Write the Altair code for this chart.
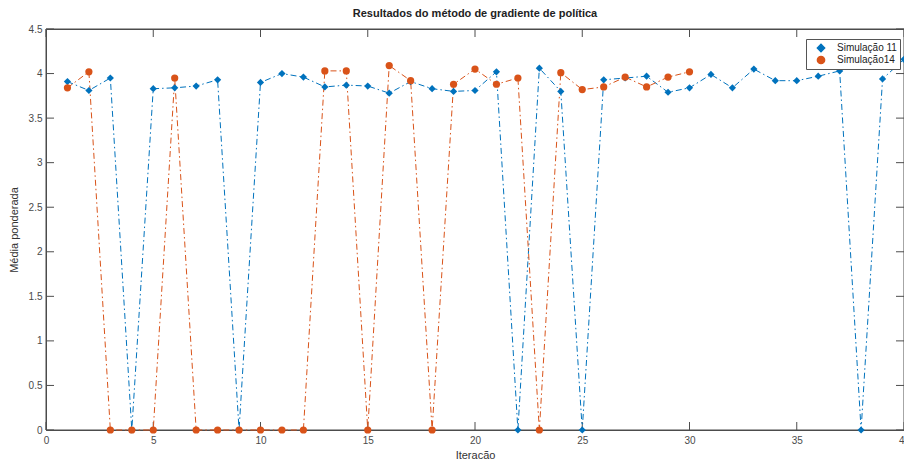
import altair as alt
import pandas as pd

# ---------------- data ----------------
series_names = ["Simulação 11", "Simulação14"]

iter_sim11 = list(range(1, 41))
sim11 = [3.91, 3.81, 3.95, 0.00, 3.83, 3.84, 3.86, 3.93, 0.00, 3.90,
         4.00, 3.96, 3.85, 3.87, 3.86, 3.78, 3.91, 3.83, 3.80, 3.81,
         4.02, 0.00, 4.06, 3.80, 0.00, 3.93, 3.95, 3.97, 3.79, 3.84,
         3.99, 3.84, 4.05, 3.92, 3.92, 3.97, 4.03, 0.00, 3.94, 4.16]

iter_sim14 = list(range(1, 31))
sim14 = [3.84, 4.02, 0.00, 0.00, 0.00, 3.95, 0.00, 0.00, 0.00, 0.00,
         0.00, 0.00, 4.03, 4.03, 0.00, 4.09, 3.92, 0.00, 3.88, 4.05,
         3.88, 3.95, 0.00, 4.01, 3.82, 3.85, 3.96, 3.85, 3.96, 4.02]

x_ticks = [0, 5, 10, 15, 20, 25, 30, 35, 40]
y_ticks = [0, 0.5, 1, 1.5, 2, 2.5, 3, 3.5, 4, 4.5]
x_domain = [0, 40]
y_domain = [0, 4.5]

# ---------------- style ----------------
BLUE = "#0072BD"
ORANGE = "#D95319"
AX = "#4d4d4d"
FONT = "Liberation Sans"
W, H = 858, 401
TL = 8  # inward tick length in pixels

# series rows
rows = []
for i, v in zip(iter_sim11, sim11):
    rows.append({"iter": i, "valor": v, "serie": series_names[0], "seg": series_names[0], "o": i})
for i, v in zip(iter_sim14, sim14):
    rows.append({"iter": i, "valor": v, "serie": series_names[1], "seg": series_names[1], "o": i})

# MATLAB-style box with inward ticks, built from the tick arrays and the axis domains
x0, x1 = x_domain
y0, y1 = y_domain
dx = TL / W * (x1 - x0)
dy = TL / H * (y1 - y0)
def seg(name, xa, ya, xb, yb):
    rows.append({"iter": xa, "valor": ya, "serie": "frame", "seg": name, "o": 0})
    rows.append({"iter": xb, "valor": yb, "serie": "frame", "seg": name, "o": 1})
seg("box_b", x0, y0, x1, y0)
seg("box_t", x0, y1, x1, y1)
seg("box_l", x0, y0, x0, y1)
seg("box_r", x1, y0, x1, y1)
for t in x_ticks:
    seg(f"xb{t}", t, y0, t, y0 + dy)
    seg(f"xt{t}", t, y1, t, y1 - dy)
for v in y_ticks:
    seg(f"yl{v}", x0, v, x0 + dx, v)
    seg(f"yr{v}", x1, v, x1 - dx, v)
df = pd.DataFrame(rows)

x_axis = alt.Axis(values=x_ticks, title="Iteracão", domain=False, ticks=False, grid=False,
                  labelFontSize=10, labelColor="#4a4a4a", labelFont=FONT, labelPadding=5,
                  titleFontSize=11, titleFont=FONT, titleColor="#333333", titleFontWeight="normal",
                  titlePadding=4, labelFlush=False)
y_axis = alt.Axis(values=y_ticks, title="Média ponderada", domain=False, ticks=False, grid=False,
                  labelFontSize=10, labelColor="#4a4a4a", labelFont=FONT, labelPadding=4,
                  format="~g",
                  titleFontSize=11, titleFont=FONT, titleColor="#333333", titleFontWeight="normal",
                  titlePadding=9, labelFlush=False)

xscale = alt.Scale(domain=x_domain, nice=False, zero=False)
yscale = alt.Scale(domain=y_domain, nice=False, zero=False)
cscale = alt.Scale(domain=series_names, range=[BLUE, ORANGE])

leg = alt.Legend(title=None, orient="none", legendX=760, legendY=10,
                 strokeColor="#555555", fillColor="white", padding=3,
                 symbolSize=52, symbolOffset=7, labelFontSize=10, labelFont=FONT,
                 labelColor="#222222", labelOffset=11, rowPadding=0, clipHeight=12,
                 cornerRadius=0)

base = alt.Chart(df)
data_only = alt.datum.serie != "frame"

frame = base.transform_filter(alt.datum.serie == "frame").mark_line(
    color=AX, strokeWidth=1
).encode(
    x=alt.X("iter:Q", scale=xscale, axis=x_axis),
    y=alt.Y("valor:Q", scale=yscale, axis=y_axis),
    detail="seg:N",
    order="o:Q",
)

lines = base.transform_filter(data_only).mark_line(strokeWidth=1, strokeDash=[6, 3, 1.5, 3]).encode(
    x=alt.X("iter:Q", scale=xscale, axis=x_axis),
    y=alt.Y("valor:Q", scale=yscale, axis=y_axis),
    color=alt.Color("serie:N", scale=cscale, legend=leg),
    order="o:Q",
)

points = base.transform_filter(data_only).mark_point(filled=True, opacity=1, size=52).encode(
    x=alt.X("iter:Q", scale=xscale, axis=x_axis),
    y=alt.Y("valor:Q", scale=yscale, axis=y_axis),
    color=alt.Color("serie:N", scale=cscale, legend=leg),
    shape=alt.Shape("serie:N", scale=alt.Scale(domain=series_names, range=["diamond", "circle"]),
                    legend=leg),
)

chart = alt.layer(frame, lines, points).properties(
    width=W, height=H,
    autosize=alt.AutoSizeParams(type="none"),
    padding={"left": 38, "top": 21, "right": 0, "bottom": 30},
    title=alt.TitleParams("Resultados do método de gradiente de política", fontSize=11,
                          fontWeight="bold", font=FONT, color="#222222", offset=5, anchor="middle"),
).configure_view(
    stroke=AX, strokeWidth=1
)

chart.save("out.html", embed_options={"renderer": "svg", "actions": False})
